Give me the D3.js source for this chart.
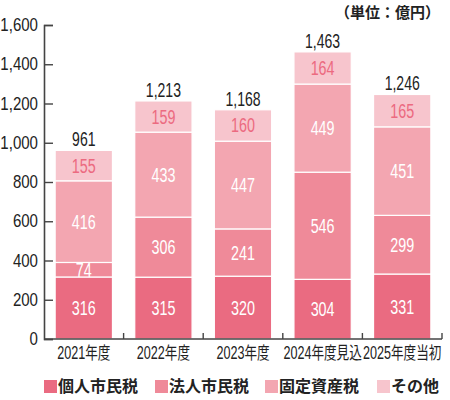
<!DOCTYPE html>
<html>
<head>
<meta charset="utf-8">
<script src="https://cdn.jsdelivr.net/npm/d3@7"></script>
<style>
  body { margin: 0; background: #fff; }
  .num { font-family: "Liberation Sans", "Noto Sans CJK JP", sans-serif; }
  .jp { font-family: "Noto Sans CJK JP", sans-serif; }
</style>
</head>
<body>
<div class="chart"></div>
<script>
// data (unit: 億円)
var years = ["2021年度", "2022年度", "2023年度", "2024年度見込", "2025年度当初"];
var kojin = [316, 315, 320, 304, 331];    // 個人市民税
var hojin = [74, 306, 241, 546, 299];     // 法人市民税
var kotei = [416, 433, 447, 449, 451];    // 固定資産税
var sonota = [155, 159, 160, 164, 165];   // その他
var totals = [961, 1213, 1168, 1463, 1246];
var seriesNames = ["個人市民税", "法人市民税", "固定資産税", "その他"];
var yTicks = [0, 200, 400, 600, 800, 1000, 1200, 1400, 1600];

var colors = ["#ea6b81", "#ef8a99", "#f3a6b1", "#f7c5cd"];
var labelColors = ["#fff", "#fff", "#fff", "#ec6a80"];

// Graph set up
var svgWidth = 450;
var svgHeight = 400;
var margin = { top: 25, right: 8, bottom: 61, left: 44 };
var width = svgWidth - margin.left - margin.right;
var height = svgHeight - margin.top - margin.bottom;

var svg = d3.select(".chart")
  .append("svg")
  .attr("width", svgWidth)
  .attr("height", svgHeight);

var chartGroup = svg.append("g")
  .attr("transform", `translate(${margin.left}, ${margin.top})`);

// build table for the stack
var table = years.map(function(y, i) {
  return { year: y, "個人市民税": kojin[i], "法人市民税": hojin[i], "固定資産税": kotei[i], "その他": sonota[i], total: totals[i] };
});
var stacked = d3.stack().keys(seriesNames)(table);

// Step 1: scales
var xBand = d3.scaleBand()
  .domain(years)
  .range([0, 398])
  .paddingInner(0.28)
  .paddingOuter(0.14);

var yLinearScale = d3.scaleLinear()
  .domain([0, 1600])
  .range([height, 0]);

// Step 2: bars
var layers = chartGroup.selectAll(".layer")
  .data(stacked)
  .enter()
  .append("g")
  .attr("class", "layer")
  .attr("fill", (d, i) => colors[i]);

layers.selectAll("rect")
  .data(d => d)
  .enter()
  .append("rect")
  .attr("x", d => xBand(d.data.year))
  .attr("y", d => yLinearScale(d[1]))
  .attr("width", xBand.bandwidth())
  .attr("height", d => yLinearScale(d[0]) - yLinearScale(d[1]))
  .attr("stroke", "#fff")
  .attr("stroke-width", 1.2);

// segment labels (squeezed to look like the condensed face)
stacked.forEach(function(layer, li) {
  chartGroup.append("g").selectAll("text")
    .data(layer)
    .enter()
    .append("text")
    .attr("class", "num")
    .attr("transform", d => `translate(${xBand(d.data.year) + xBand.bandwidth() / 2}, ${yLinearScale((d[0] + d[1]) / 2) + 7}) scale(0.7, 1)`)
    .attr("text-anchor", "middle")
    .attr("font-size", "20.5px")
    .style("fill", labelColors[li])
    .text(d => d[1] - d[0]);
});

// totals on top
chartGroup.append("g").selectAll("text")
  .data(table)
  .enter()
  .append("text")
  .attr("class", "num")
  .attr("transform", d => `translate(${xBand(d.year) + xBand.bandwidth() / 2}, ${yLinearScale(d.total) - 4}) scale(0.72, 1)`)
  .attr("text-anchor", "middle")
  .attr("font-size", "19.5px")
  .style("fill", "#222")
  .text(d => d3.format(",")(d.total));

// Step 3: axes
var leftAxis = d3.axisLeft(yLinearScale)
  .tickValues(yTicks)
  .tickFormat(d3.format(","))
  .tickSize(-9)
  .tickPadding(7);

var yAxisG = chartGroup.append("g").call(leftAxis);
yAxisG.select(".domain").attr("stroke", "#444").attr("stroke-width", 1.6);
yAxisG.selectAll(".tick line").attr("stroke", "#444").attr("stroke-width", 1.4);
yAxisG.selectAll(".tick text")
  .attr("class", "num")
  .attr("font-size", "17.5px")
  .attr("transform", "scale(0.86, 1)")
  .style("fill", "#222");

// x axis: line plus small ticks at band edges
chartGroup.append("line")
  .attr("x1", 0).attr("x2", 398)
  .attr("y1", height).attr("y2", height)
  .attr("stroke", "#444")
  .attr("stroke-width", 1.6);

chartGroup.append("g").selectAll("line")
  .data(years)
  .enter()
  .append("line")
  .attr("x1", d => xBand(d) + xBand.bandwidth() + xBand.step() * 0.14)
  .attr("x2", d => xBand(d) + xBand.bandwidth() + xBand.step() * 0.14)
  .attr("y1", height)
  .attr("y2", height - 6)
  .attr("stroke", "#444")
  .attr("stroke-width", 1.4);

chartGroup.append("g").selectAll("text")
  .data(years)
  .enter()
  .append("text")
  .attr("class", "num")
  .attr("transform", d => `translate(${xBand(d) + xBand.bandwidth() / 2}, ${height + 20}) scale(0.72, 1)`)
  .attr("text-anchor", "middle")
  .attr("font-size", "17.5px")
  .style("fill", "#222")
  .text(d => d);

// unit label
svg.append("text")
  .attr("class", "jp")
  .attr("x", 440)
  .attr("y", 18)
  .attr("text-anchor", "end")
  .attr("font-size", "15px")
  .attr("font-weight", "bold")
  .style("fill", "#222")
  .text("（単位：億円）");

// legend
var legendX = [44, 155, 265, 377];
var legend = svg.append("g").selectAll("g")
  .data(seriesNames)
  .enter()
  .append("g")
  .attr("transform", (d, i) => `translate(${legendX[i]}, 380)`);

legend.append("rect")
  .attr("width", 13)
  .attr("height", 13)
  .attr("fill", (d, i) => colors[i]);

legend.append("text")
  .attr("class", "jp")
  .attr("x", 14)
  .attr("y", 12)
  .attr("font-size", "16px")
  .attr("font-weight", "bold")
  .style("fill", "#222")
  .text(d => d);
</script>
</body>
</html>
